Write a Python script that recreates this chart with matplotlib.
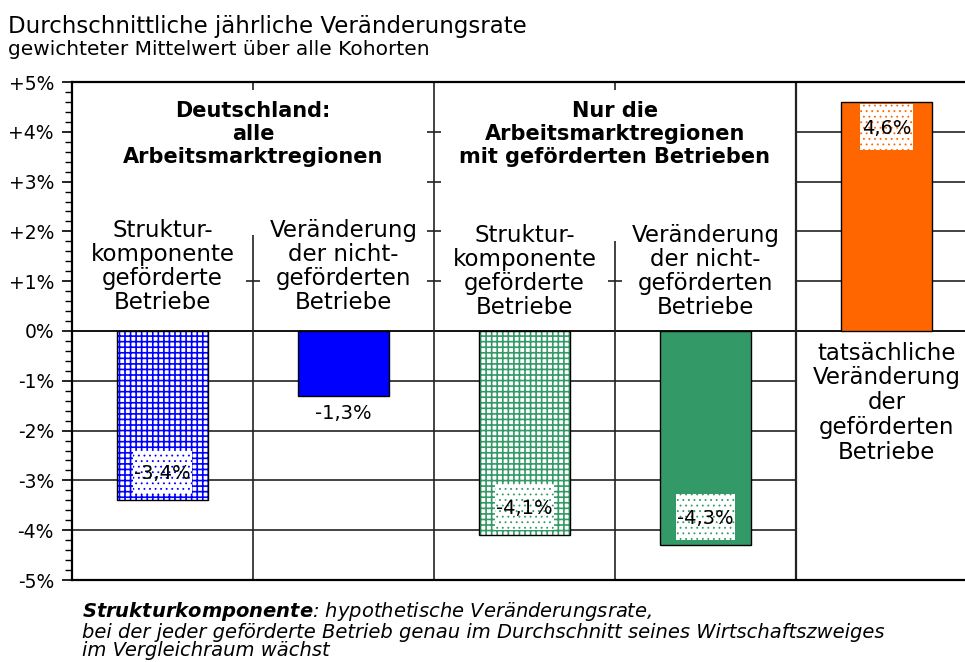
import matplotlib
matplotlib.use("Agg")
import matplotlib.pyplot as plt
from matplotlib.patches import Rectangle

# Data
values = [-3.4, -1.3, -4.1, -4.3, 4.6]
value_labels = ["-3,4%", "-1,3%", "-4,1%", "-4,3%", "4,6%"]
bar_colors = ["#0000FF", "#0000FF", "#339966", "#339966", "#FF6600"]
bar_hatches = ["+++", None, "+++", None, None]
boxed = [True, False, True, True, True]
cat_labels = ["Struktur-\nkomponente\ngeförderte\nBetriebe",
              "Veränderung\nder nicht-\ngeförderten\nBetriebe",
              "Struktur-\nkomponente\ngeförderte\nBetriebe",
              "Veränderung\nder nicht-\ngeförderten\nBetriebe",
              "tatsächliche\nVeränderung\nder\ngeförderten\nBetriebe"]
group_labels = ["Deutschland:\nalle\nArbeitsmarktregionen",
                "Nur die\nArbeitsmarktregionen\nmit geförderten Betrieben"]
yticks = [5, 4, 3, 2, 1, 0, -1, -2, -3, -4, -5]
ytick_labels = ["+5%", "+4%", "+3%", "+2%", "+1%", "0%", "-1%", "-2%", "-3%", "-4%", "-5%"]
footnote = ("$\\mathbfit{Strukturkomponente}$: hypothetische Veränderungsrate,\n"
            "bei der jeder geförderte Betrieb genau im Durchschnitt seines Wirtschaftszweiges\n"
            "im Vergleichraum wächst")

plt.rcParams['font.family'] = ['DejaVu Sans']
plt.rcParams['mathtext.fontset'] = 'dejavusans'
plt.rcParams['hatch.linewidth'] = 1.2

fig = plt.figure(figsize=(9.65, 6.62), dpi=100)
ax = fig.add_axes([72 / 965, 82 / 662, 1 - 72 / 965, 498 / 662])
ax.set_xlim(-0.5, 4.434)
ax.set_ylim(-5, 5)

x = list(range(len(values)))
grid_kw = dict(color="#222222", lw=1.2, zorder=1)

# gridlines: lower part left of the last column, upper part only in the last column
ax.hlines([-1, -2, -3, -4], -0.5, 3.5, **grid_kw)
ax.hlines([1, 2, 3, 4], 3.5, 4.434, **grid_kw)
ax.axhline(0, color="black", lw=1.3, zorder=1)

# separators between columns
ax.vlines(0.5, -5, 1.93, **grid_kw)
ax.vlines(1.5, -5, 5, **grid_kw)
ax.vlines(2.5, -5, 1.8, **grid_kw)
ax.vlines(3.5, -5, 5, color="#222222", lw=1.6, zorder=1)
# little grid stubs left visible at the separators
ax.plot([0.5, 1.5, 1.5, 1.5, 1.5, 2.5], [1, 1, 2, 3, 4, 1], ls="none", marker="_",
        ms=10, mew=1.2, color="#222222", zorder=1)
ax.vlines([0.5, 2.5], 4.83, 5, **grid_kw)

# bars
for xi, v, c, h in zip(x, values, bar_colors, bar_hatches):
    if h:
        ax.bar(xi, v, width=0.5, color="white", edgecolor=c, hatch=h, lw=0, zorder=2)
        ax.bar(xi, v, width=0.5, color="none", edgecolor="black", lw=1, zorder=3)
    else:
        ax.bar(xi, v, width=0.5, color=c, edgecolor="black", lw=1, zorder=2)

# value labels (white boxes with a fine dot pattern)
with plt.rc_context({'hatch.linewidth': 0.6}):
    for xi, v, c, lab, b in zip(x, values, bar_colors, value_labels, boxed):
        if b:
            w = 0.33 if v < 0 else 0.29
            y0 = v + 0.1 if v < 0 else v - 0.97
            ax.add_patch(Rectangle((xi - w / 2, y0), w, 0.92, facecolor="white", edgecolor=c,
                                   hatch="...", lw=0, zorder=4))
            ax.text(xi, y0 + 0.44, lab, ha="center", va="center", fontsize=14, zorder=5)
        else:
            ax.text(xi, v - 0.35, lab, ha="center", va="center", fontsize=14, zorder=5)

# category texts
cat_y = [1.29, 1.29, 1.2, 1.2, -1.44]
cat_ls = [1.05, 1.05, 1.05, 1.05, 1.1]
for xi, lab, yy, ls in zip(x, cat_labels, cat_y, cat_ls):
    ax.text(xi, yy, lab, ha="center", va="center", fontsize=16.5, linespacing=ls, zorder=5)

for gx, lab in zip([0.5, 2.5], group_labels):
    ax.text(gx, 3.95, lab, ha="center", va="center", fontsize=15, fontweight="bold",
            linespacing=1.2, zorder=5)

# axes styling
ax.set_yticks(yticks)
ax.set_yticklabels(ytick_labels, fontsize=13.5)
ax.set_yticks([i / 5 for i in range(-25, 26)], minor=True)
ax.tick_params(axis="y", which="major", direction="out", length=7, width=1.2, pad=6)
ax.tick_params(axis="y", which="minor", direction="out", length=5, width=1)
ax.set_xticks([])
ax.spines["right"].set_visible(False)
for s in ["left", "top", "bottom"]:
    ax.spines[s].set_linewidth(1.6)
    ax.spines[s].set_color("black")

# titles
fig.text(8 / 965, 1 - 33 / 662, "Durchschnittliche jährliche Veränderungsrate",
         fontsize=16.5, va="baseline", ha="left")
fig.text(8 / 965, 1 - 55 / 662, "gewichteter Mittelwert über alle Kohorten",
         fontsize=14.5, va="baseline", ha="left")

# footnote
fig.text(82 / 965, 1 - 600 / 662, footnote, fontsize=14, style="italic",
         va="top", ha="left", linespacing=0.98)

fig.savefig("out.png", dpi=100)
